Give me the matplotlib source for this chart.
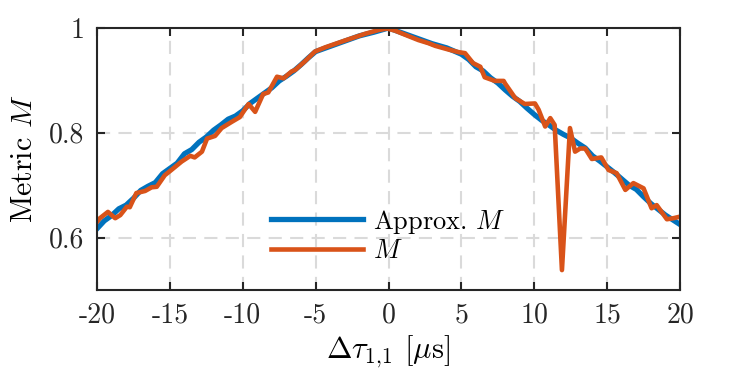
import matplotlib
matplotlib.use("Agg")
import matplotlib.pyplot as plt
import numpy as np

# approximated metric (smooth curve)
x_approx = np.array([-20, -19.5, -19, -18.5, -18, -17.5, -17, -16.5, -16, -15.5, -15,
                     -14.5, -14, -13.5, -13, -12.5, -12, -11.5, -11, -10.5, -10,
                     -9.5, -9, -8.5, -8, -7.5, -7, -6.5, -6, -5.5, -5,
                     -4, -3, -2, -1, 0, 1, 2, 3, 4, 5,
                     5.5, 6, 6.5, 7, 7.5, 8, 8.5, 9, 9.5, 10,
                     10.5, 11, 11.5, 12, 12.5, 13, 13.5, 14, 14.5, 15,
                     15.5, 16, 16.5, 17, 17.5, 18, 18.5, 19, 19.5, 20])
m_approx = np.array([0.617, 0.632, 0.642, 0.655, 0.662, 0.675, 0.690, 0.698, 0.705, 0.722, 0.732,
                     0.742, 0.760, 0.768, 0.782, 0.792, 0.805, 0.815, 0.826, 0.832, 0.842,
                     0.856, 0.866, 0.876, 0.886, 0.899, 0.908, 0.918, 0.930, 0.943, 0.955,
                     0.965, 0.975, 0.985, 0.992, 1.000, 0.990, 0.980, 0.970, 0.962, 0.950,
                     0.940, 0.926, 0.918, 0.905, 0.895, 0.882, 0.870, 0.860, 0.847, 0.835,
                     0.824, 0.815, 0.805, 0.797, 0.790, 0.780, 0.771, 0.756, 0.746, 0.735,
                     0.724, 0.712, 0.700, 0.692, 0.678, 0.665, 0.654, 0.643, 0.634, 0.625])

# measured metric
x_meas = np.array([-20.0, -19.8, -19.25, -18.75, -18.4, -17.95, -17.75, -17.3, -16.7, -16.25,
                   -15.9, -15.35, -14.9, -14.2, -13.6, -13.3, -12.8, -12.45, -11.9, -11.45,
                   -10.75, -10.2, -9.6, -9.15, -8.6, -8.25, -7.65, -7.2, -6.65, -6.4,
                   -5.75, -5.05, -4.35, -3.0, -1.6, -0.7, -0.1, 0.45, 1.15, 2.05,
                   2.75, 3.2, 4.1, 4.8, 5.25, 5.8, 6.3, 6.6, 7.3, 7.9,
                   8.0, 8.7, 9.35, 10.05, 10.3, 10.75, 11.1, 11.4, 11.9, 12.45,
                   12.8, 13.15, 13.5, 13.95, 14.6, 15.1, 15.65, 16.25, 16.8, 17.5,
                   18.05, 18.4, 19.1, 19.55, 20.0])
m_meas = np.array([0.630, 0.637, 0.649, 0.637, 0.643, 0.659, 0.658, 0.685, 0.689, 0.696,
                   0.697, 0.719, 0.729, 0.745, 0.756, 0.753, 0.764, 0.789, 0.794, 0.809,
                   0.821, 0.830, 0.855, 0.840, 0.874, 0.877, 0.907, 0.904, 0.917, 0.920,
                   0.936, 0.955, 0.963, 0.976, 0.989, 0.996, 0.999, 0.995, 0.987, 0.977,
                   0.971, 0.966, 0.959, 0.954, 0.952, 0.933, 0.926, 0.906, 0.899, 0.899,
                   0.894, 0.866, 0.855, 0.856, 0.844, 0.812, 0.828, 0.815, 0.538, 0.809,
                   0.764, 0.770, 0.770, 0.750, 0.753, 0.729, 0.723, 0.691, 0.704, 0.694,
                   0.656, 0.662, 0.635, 0.637, 0.640])

xticks = [-20, -15, -10, -5, 0, 5, 10, 15, 20]
xtick_labels = ['-20', '-15', '-10', '-5', '0', '5', '10', '15', '20']
yticks = [0.6, 0.8, 1.0]
ytick_labels = ['0.6', '0.8', '1']

plt.rcParams['font.family'] = ['cmr10', 'DejaVu Serif']
plt.rcParams['mathtext.fontset'] = 'cm'
plt.rcParams['axes.unicode_minus'] = False
plt.rcParams['font.size'] = 19

fig = plt.figure(figsize=(7.47, 3.73), dpi=100)
ax = fig.add_axes([97 / 747, 1 - 290 / 373, 583 / 747, 262 / 373])

ax.plot(x_approx, m_approx, color='#0072BD', lw=3.8, label='Approx. $M$')
ax.plot(x_meas, m_meas, color='#D95319', lw=3.3, label='$M$')

ax.set_xlim(-20, 20)
ax.set_ylim(0.5, 1.0)
ax.set_xticks(xticks, labels=xtick_labels)
ax.set_yticks(yticks, labels=ytick_labels)
ax.grid(True, color='#dadada', lw=1.5, linestyle=(0, (6.3, 4)))
ax.set_axisbelow(True)
ax.tick_params(direction='in', length=6, width=1.5, top=True, right=True,
               colors='#262626', pad=9, labelsize=20)
for s in ax.spines.values():
    s.set_linewidth(1.5)
    s.set_color('#262626')

ax.set_xlabel(r'$\Delta\tau_{1{,}1}$ [$\mu$s]', labelpad=4, fontsize=22)
ax.set_ylabel('Metric $M$', labelpad=8, fontsize=21.5)

ax.legend(loc='center left', bbox_to_anchor=(0.275, 0.208), frameon=False,
          borderpad=0, handlelength=3.5, handletextpad=0.38, labelspacing=0.15)

fig.savefig('out.png', dpi=100)
